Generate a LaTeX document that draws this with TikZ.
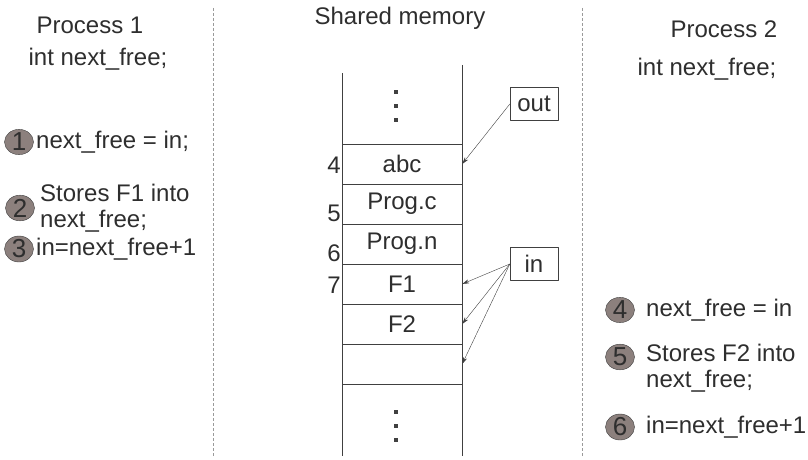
\documentclass[tikz,border=0pt]{standalone}
\usepackage{fontspec}
\setmainfont{Liberation Sans}
\usetikzlibrary{shapes.geometric,arrows.meta}
\definecolor{linegray}{HTML}{404040}
\definecolor{textgray}{HTML}{2E2E2E}
\definecolor{markfill}{HTML}{8C807D}
\definecolor{sepgray}{HTML}{9A9A9A}
\tikzset{
	cell/.style={draw=linegray, minimum width=120pt, minimum height=40pt, inner sep=0pt},
	ptr/.style={draw=linegray, minimum width=48pt, minimum height=33pt, inner sep=0pt},
	stepmark/.style={ellipse, draw=linegray, fill=markfill, minimum width=29pt, minimum height=21pt, inner sep=0pt, font=\fontsize{26}{26}\selectfont},
	steptext/.style={anchor=west, inner sep=0pt, align=left},
	sep/.style={sepgray, dashed, dash pattern=on 3pt off 2pt}
}
\begin{document}
\begin{tikzpicture}[x=1pt,y=-1pt,>={Stealth[length=7pt,width=4pt]}, font=\fontsize{24}{26}\selectfont, text=textgray, line join=round]
	\useasboundingbox (0,0) rectangle (808,460);
	% separators
	\draw[sep] (213,8)--(213,456);
	\draw[sep] (582,8)--(582,456);
	% headings
	\node (p1) at (90,25) {Process 1};
	\node (v1) at (98,59) {int next\_free;};
	\node (shm) at (400,18) {Shared memory};
	\node (p2) at (724,29) {Process 2};
	\node (v2) at (707,69) {int next\_free;};
	% memory column
	\draw[linegray] (342,73)--(342,456);
	\draw[linegray] (462,65)--(462,456);
	\foreach \y in {92,106,120,412,426,440}
		\fill[linegray] (394,\y-2) rectangle ++(4,4);
	\node[cell] (m4) at (402,164) {abc};
	\node[cell] (m5) at (402,204) {Prog.c};
	\node[cell] (m6) at (402,244) {Prog.n};
	\node[cell] (m7) at (402,284) {F1};
	\node[cell] (m8) at (402,324) {F2};
	\node[cell] (m9) at (402,364) {};
	\node[anchor=east,inner sep=0pt] (i4) at (341,165) {4};
	\node[anchor=east,inner sep=0pt] (i5) at (341,213) {5};
	\node[anchor=east,inner sep=0pt] (i6) at (341,253) {6};
	\node[anchor=east,inner sep=0pt] (i7) at (341,285) {7};
	% pointers
	\node[ptr] (out) at (534,104) {out};
	\node[ptr] (in) at (534,264) {in};
	\draw[->,linegray] (out.west)--(m4.east);
	\foreach \m in {m7,m8,m9}
		\draw[->,linegray] (in.west)--(\m.east);
	% process 1 steps
	\node[stepmark] (s1) at (19,142) {1};
	\node[steptext] (t1) at (36,142) {next\_free = in;};
	\node[stepmark] (s2) at (20,208) {2};
	\node[steptext] (t2) at (40,208) {Stores F1 into\\next\_free;};
	\node[stepmark] (s3) at (19,249) {3};
	\node[steptext] (t3) at (36,249) {in=next\_free+1};
	% process 2 steps
	\node[stepmark] (s4) at (620,310) {4};
	\node[steptext] (t4) at (646,310) {next\_free = in};
	\node[stepmark] (s5) at (620,357) {5};
	\node[steptext,anchor=north west] (t5) at (646,344) {Stores F2 into\\next\_free;};
	\node[stepmark] (s6) at (620,427) {6};
	\node[steptext] (t6) at (646,427) {in=next\_free+1};
\end{tikzpicture}
\end{document}
